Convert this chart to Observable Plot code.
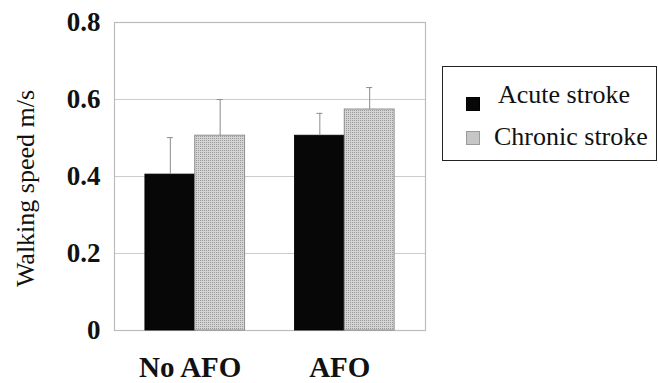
<!DOCTYPE html>
<html>
<head>
<meta charset="utf-8">
<script src="https://cdn.jsdelivr.net/npm/d3@7"></script>
<script src="https://cdn.jsdelivr.net/npm/@observablehq/plot@0.6"></script>
<style>
  body { margin: 0; background: #fff; }
  #wrap { position: relative; width: 658px; height: 383px; font-family: "Liberation Serif", "Times New Roman", serif; color: #111; }
  #legend { position: absolute; left: 442px; top: 66px; width: 215px; height: 95px; border: 1.5px solid #222; box-sizing: border-box; background: #fff; }
  #legend .sw { position: absolute; width: 14px; height: 14px; box-sizing: border-box; }
  #legend .lb { position: absolute; font-family: "Liberation Serif", "Times New Roman", serif; font-size: 26px; line-height: 26px; white-space: nowrap; }
</style>
</head>
<body>
<div id="wrap"></div>
<script>
const groups = ["No AFO", "AFO"];
const series = ["Acute stroke", "Chronic stroke"];
const acuteMean = [0.405, 0.506];
const chronicMean = [0.506, 0.574];
const acuteErr = [0.096, 0.058];
const chronicErr = [0.094, 0.057];
const yTicks = [0, 0.2, 0.4, 0.6, 0.8];
const yLabel = "Walking speed m/s";

const serifFont = "'Liberation Serif', 'Times New Roman', serif";
const seriesMeans = [acuteMean, chronicMean];
const seriesErrs = [acuteErr, chronicErr];
const rows = [];
groups.forEach((g, gi) => {
  series.forEach((s, si) => {
    rows.push({ group: g, series: s, pos: gi * (series.length + 1) + si, mean: seriesMeans[si][gi], err: seriesErrs[si][gi] });
  });
});
const groupCenters = groups.map((g, gi) => gi * (series.length + 1) + series.length / 2);

const plot = Plot.plot({
  width: 658,
  height: 383,
  marginLeft: 114,
  marginRight: 233,
  marginTop: 22,
  marginBottom: 53,
  style: "font-family: 'Liberation Serif', 'Times New Roman', serif; font-size: 27px; font-weight: bold; color: #111; background: #fff;",
  x: { domain: [-0.62, 5.62] },
  y: { domain: [0, 0.8] },
  marks: [
    Plot.ruleY(yTicks.filter(t => t > 0 && t < 0.8), { stroke: "#cccccc", strokeWidth: 1 }),
    Plot.frame({ stroke: "#bcbcbc", strokeWidth: 1.2 }),
    Plot.rectY(rows.filter(d => d.series === series[0]), { x1: d => d.pos, x2: d => d.pos + 1, y: "mean", fill: "#070707", stroke: "#000", strokeWidth: 0.8 }),
    Plot.rectY(rows.filter(d => d.series === series[1]), { x1: d => d.pos, x2: d => d.pos + 1, y: "mean", fill: "url(#stip)", stroke: "#8e8e8e", strokeWidth: 1 }),
    Plot.ruleX(rows, { x: d => d.pos + 0.5, y1: "mean", y2: d => d.mean + d.err, stroke: "#8c8c8c", strokeWidth: 1 }),
    Plot.ruleY(rows, { y: d => d.mean + d.err, x1: d => d.pos + 0.44, x2: d => d.pos + 0.56, stroke: "#8c8c8c", strokeWidth: 1 }),
    Plot.axisY({ ticks: yTicks, tickSize: 0, tickPadding: 14, tickFormat: d => d === 0 ? "0" : d.toFixed(1), label: null, fontSize: 27, fontWeight: "bold", fontFamily: serifFont }),
    Plot.axisX({ ticks: groupCenters, tickSize: 0, tickPadding: 26, tickFormat: d => groups[groupCenters.indexOf(d)], label: null, fontSize: 29, fontWeight: "bold", fontFamily: serifFont, dx: -5 }),
    Plot.text([yLabel], { frameAnchor: "left", rotate: -90, dx: -89, dy: 12, fontSize: 26, fontWeight: "normal", fontFamily: serifFont, lineAnchor: "middle", textAnchor: "middle", fill: "#111" })
  ]
});

// stipple pattern for the chronic bars
const ns = "http://www.w3.org/2000/svg";
const defs = document.createElementNS(ns, "defs");
defs.innerHTML = '<pattern id="stip" width="2" height="2" patternUnits="userSpaceOnUse"><rect width="2" height="2" fill="#d4d4d4"/><rect width="1" height="1" fill="#9a9a9a"/></pattern>';
plot.insertBefore(defs, plot.firstChild);

const wrap = document.getElementById("wrap");
wrap.appendChild(plot);

// legend
const legend = document.createElement("div");
legend.id = "legend";
const swatchStyles = [
  "background:#070707;border:1px solid #000;",
  "background:#c6c6c6;border:1px solid #9a9a9a;"
];
const swTops = [30, 64];
const lbLefts = [55, 51];
const lbTops = [15, 57];
series.forEach((s, i) => {
  const sw = document.createElement("div");
  sw.className = "sw";
  sw.style.cssText = swatchStyles[i] + "left:23px;top:" + swTops[i] + "px;";
  legend.appendChild(sw);
  const lb = document.createElement("div");
  lb.className = "lb";
  lb.style.left = lbLefts[i] + "px";
  lb.style.top = lbTops[i] + "px";
  lb.textContent = s;
  legend.appendChild(lb);
});
wrap.appendChild(legend);
</script>
</body>
</html>
